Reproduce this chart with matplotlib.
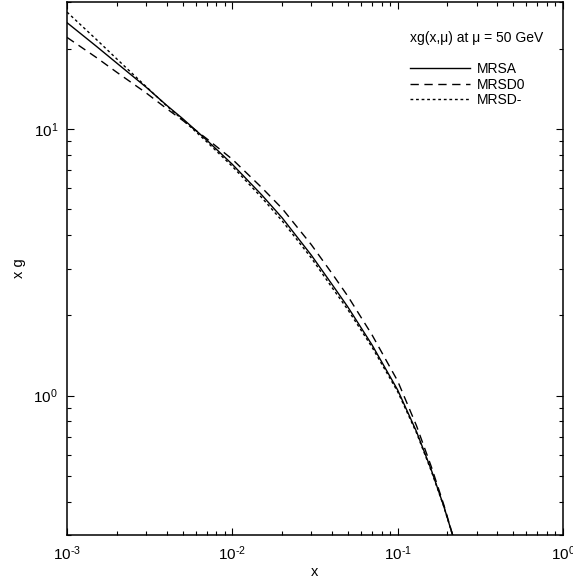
import matplotlib
matplotlib.use("Agg")
import matplotlib.pyplot as plt
from matplotlib.ticker import FuncFormatter

plt.rcParams['font.family'] = ['Liberation Sans', 'DejaVu Sans']
plt.rcParams['mathtext.fontset'] = 'custom'
plt.rcParams['mathtext.rm'] = 'Liberation Sans'
plt.rcParams['axes.unicode_minus'] = False

# momentum fraction x
x = [0.001, 0.0015, 0.002, 0.003, 0.004, 0.005, 0.007, 0.01, 0.015, 0.02,
     0.03, 0.04, 0.05, 0.07, 0.1, 0.13, 0.16, 0.19, 0.22]

# x g(x, mu) at mu = 50 GeV
mrsa = [25.1, 20.5, 17.7, 14.4, 12.3, 10.96, 9.10, 7.38, 5.68, 4.65,
        3.37, 2.62, 2.15, 1.55, 1.05, 0.733, 0.525, 0.385, 0.286]
mrsd0 = [22.1, 18.6, 16.35, 13.7, 11.95, 10.8, 9.21, 7.71, 6.05, 5.04,
         3.69, 2.88, 2.36, 1.69, 1.135, 0.771, 0.54, 0.39, 0.286]
mrsdm = [27.5, 21.75, 18.35, 14.47, 12.24, 10.86, 8.97, 7.25, 5.55, 4.53,
         3.29, 2.55, 2.10, 1.52, 1.035, 0.725, 0.520, 0.384, 0.286]


def decade_label(v, pos):
    e = int(round(__import__('math').log10(v)))
    if e < 0:
        return r'$\mathdefault{10^{\text{-}%d}}$' % (-e)
    return r'$\mathdefault{10^{%d}}$' % e


fig = plt.figure(figsize=(5.73, 5.85), dpi=100)
ax = fig.add_axes([0.117, 0.0855, 0.8655, 0.911])

ax.plot(x, mrsa, color='black', lw=1.0, label='MRSA')
ax.plot(x, mrsd0, color='black', lw=1.0, dashes=(6, 4), label='MRSD0')
ax.plot(x, mrsdm, color='black', lw=1.0, dashes=(2, 2), label='MRSD-')

ax.set_xscale('log')
ax.set_yscale('log')
ax.set_xlim(1e-3, 1)
ax.set_ylim(0.3, 30)
ax.xaxis.set_major_formatter(FuncFormatter(decade_label))
ax.yaxis.set_major_formatter(FuncFormatter(decade_label))

ax.set_xlabel('x', fontsize=10.5, labelpad=2)
ax.set_ylabel('x g', fontsize=10.5, labelpad=5)

for s in ax.spines.values():
    s.set_linewidth(1.1)
ax.tick_params(which='both', direction='in', top=True, right=True, width=0.8, labelsize=11)
ax.tick_params(which='major', length=5, pad=6.5)
ax.tick_params(which='minor', length=3)

ax.text(0.96, 0.932, 'xg(x,\u03bc) at \u03bc = 50 GeV', transform=ax.transAxes,
        ha='right', va='center', fontsize=10)
leg = ax.legend(loc='upper left', bbox_to_anchor=(0.6915, 0.887), frameon=False,
                fontsize=10, handlelength=4.3, handletextpad=0.55,
                labelspacing=0.1, borderpad=0, borderaxespad=0)

fig.savefig('out.png', dpi=100)
